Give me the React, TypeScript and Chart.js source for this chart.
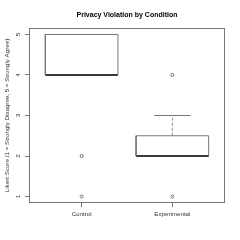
import React, { useEffect, useRef } from "react";
import { Chart, registerables } from "chart.js";

Chart.register(...registerables);

const title = "Privacy Violation by Condition";
const yAxisTitle = "Likert Score (1 = Strongly Disagree, 5 = Strongly Agree)";
const categories = ["Control", "Experimental"];
const q1 = [4, 2];
const medians = [4, 2];
const q3 = [5, 2.5];
const whiskerLow = [4, 2];
const whiskerHigh = [5, 3];
const outliers = [
  [2, 1],
  [4, 1],
];
const yTicks = [1, 2, 3, 4, 5];

const BOX_HALF = 0.4;
const CAP_HALF = 0.2;
const LINE = "#767676";
const FONT = "'Liberation Sans', Arial, sans-serif";

function buildDatasets() {
  const ds: any[] = [];
  const seg = (pts: { x: number; y: number }[], extra: any = {}) => ({
    type: "line",
    data: pts,
    showLine: true,
    pointRadius: 0,
    borderColor: LINE,
    borderWidth: 1,
    fill: false,
    tension: 0,
    ...extra,
  });
  categories.forEach((_, i) => {
    const x = i + 1;
    ds.push(
      seg([
        { x: x - BOX_HALF, y: q1[i] },
        { x: x + BOX_HALF, y: q1[i] },
        { x: x + BOX_HALF, y: q3[i] },
        { x: x - BOX_HALF, y: q3[i] },
        { x: x - BOX_HALF, y: q1[i] },
      ])
    );
    if (whiskerHigh[i] > q3[i]) {
      ds.push(
        seg(
          [
            { x, y: q3[i] },
            { x, y: whiskerHigh[i] },
          ],
          { borderDash: [3, 2], borderColor: "#8a8a8a" }
        )
      );
      ds.push(
        seg([
          { x: x - CAP_HALF, y: whiskerHigh[i] },
          { x: x + CAP_HALF, y: whiskerHigh[i] },
        ])
      );
    }
    if (whiskerLow[i] < q1[i]) {
      ds.push(
        seg(
          [
            { x, y: q1[i] },
            { x, y: whiskerLow[i] },
          ],
          { borderDash: [3, 2], borderColor: "#8a8a8a" }
        )
      );
      ds.push(
        seg([
          { x: x - CAP_HALF, y: whiskerLow[i] },
          { x: x + CAP_HALF, y: whiskerLow[i] },
        ])
      );
    }
    ds.push(
      seg(
        [
          { x: x - BOX_HALF, y: medians[i] },
          { x: x + BOX_HALF, y: medians[i] },
        ],
        { borderColor: "#000", borderWidth: 2 }
      )
    );
    ds.push({
      type: "scatter",
      data: outliers[i].map((v) => ({ x, y: v })),
      pointRadius: 1.5,
      pointBorderWidth: 0.8,
      pointBorderColor: "#555",
      pointBackgroundColor: "rgba(0,0,0,0)",
      showLine: false,
    });
  });
  return ds;
}

const framePlugin = {
  id: "frame",
  afterDraw(chart: any) {
    const { ctx, chartArea } = chart;
    ctx.save();
    ctx.strokeStyle = LINE;
    ctx.lineWidth = 1;
    ctx.strokeRect(
      Math.round(chartArea.left) + 0.5,
      Math.round(chartArea.top) + 0.5,
      Math.round(chartArea.right - chartArea.left) - 1,
      Math.round(chartArea.bottom - chartArea.top) - 1
    );
    ctx.restore();
  },
};

export default function App() {
  const ref = useRef<HTMLCanvasElement | null>(null);
  useEffect(() => {
    if (!ref.current) return;
    const chart = new Chart(ref.current, {
      type: "scatter",
      data: { datasets: buildDatasets() },
      options: {
        animation: false,
        responsive: false,
        layout: { padding: { left: 0, right: 15, top: 0, bottom: 0 } },
        plugins: {
          legend: { display: false },
          tooltip: { enabled: false },
          title: {
            display: true,
            text: title,
            fullSize: false,
            color: "#000",
            font: { family: FONT, size: 7, weight: "bold" },
            padding: { top: 10.5, bottom: 9.1 },
          },
        },
        scales: {
          x: {
            type: "linear",
            min: 0.42,
            max: 2.58,
            afterBuildTicks: (s: any) => {
              s.ticks = categories.map((_, i) => ({ value: i + 1 }));
            },
            afterFit: (s: any) => {
              s.height = 37;
            },
            ticks: {
              autoSkip: false,
              maxRotation: 0,
              minRotation: 0,
              padding: 3.3,
              color: "#333",
              font: { family: FONT, size: 6.2 },
              callback: (v: any) => categories[Math.round(Number(v)) - 1] ?? "",
            },
            grid: {
              display: true,
              drawOnChartArea: false,
              drawTicks: true,
              tickLength: 4,
              color: LINE,
            },
            border: { display: false },
          },
          y: {
            type: "linear",
            min: 0.84,
            max: 5.16,
            afterBuildTicks: (s: any) => {
              s.ticks = yTicks.map((v) => ({ value: v }));
            },
            afterFit: (s: any) => {
              s.width = 29;
            },
            title: {
              display: true,
              text: yAxisTitle,
              color: "#333",
              font: { family: FONT, size: 6.2 },
              padding: { top: 3.3, bottom: 0 },
            },
            ticks: {
              autoSkip: false,
              minRotation: 90,
              maxRotation: 90,
              crossAlign: "center",
              padding: 4.5,
              color: "#333",
              font: { family: FONT, size: 6.2 },
              callback: (v: any) => String(v),
            },
            grid: {
              display: true,
              drawOnChartArea: false,
              drawTicks: true,
              tickLength: 4,
              color: LINE,
            },
            border: { display: false },
          },
        },
      } as any,
      plugins: [framePlugin],
    });
    return () => chart.destroy();
  }, []);
  return (
    <div style={{ position: "fixed", left: 0, top: 0, width: 240, height: 240, background: "#fff" }}>
      <canvas ref={ref} width={240} height={240} style={{ display: "block" }} />
    </div>
  );
}
